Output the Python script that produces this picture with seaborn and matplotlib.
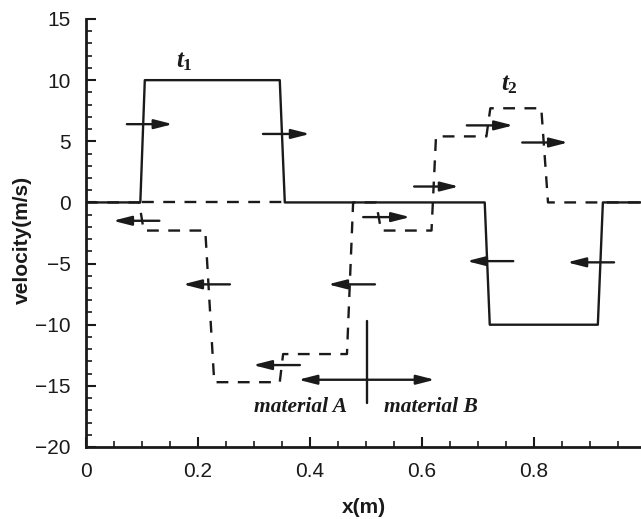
import numpy as np
import pandas as pd
import seaborn as sns
import matplotlib.pyplot as plt

# velocity profiles
x_t1 = [0, 0.097, 0.105, 0.346, 0.355, 0.712, 0.721, 0.914, 0.923, 1.0]
v_t1 = [0, 0, 10, 10, 0, 0, -10, -10, 0, 0]

x_t2 = [0, 0.095, 0.103, 0.213, 0.229, 0.346, 0.352, 0.466, 0.477, 0.518,
        0.527, 0.617, 0.625, 0.715, 0.722, 0.813, 0.825, 1.0]
v_t2 = [0, 0, -2.3, -2.3, -14.7, -14.7, -12.4, -12.4, 0, 0,
        -2.3, -2.3, 5.4, 5.4, 7.7, 7.7, 0, 0]

# dashed zero line visible under the t1 pulse
x_zero = [0.1, 0.355]
v_zero = [0, 0]

# wave-front arrows: tail x, head x, velocity level
arrow_tail = [0.073, 0.316, 0.131, 0.257, 0.382, 0.516, 0.495, 0.586, 0.680, 0.779, 0.763, 0.943]
arrow_head = [0.155, 0.400, 0.048, 0.173, 0.298, 0.432, 0.579, 0.666, 0.763, 0.861, 0.680, 0.859]
arrow_v = [6.4, 5.6, -1.5, -6.7, -13.3, -6.7, -1.2, 1.3, 6.3, 4.9, -4.8, -4.9]

interface_x = 0.502

sns.set_style("ticks")
plt.rcParams['font.family'] = ['Liberation Sans', 'DejaVu Sans']
plt.rcParams['mathtext.fontset'] = 'custom'
plt.rcParams['mathtext.it'] = 'Liberation Serif:bold:italic'
plt.rcParams['mathtext.rm'] = 'Liberation Serif:bold'

ink = '#1a1a1a'

fig = plt.figure(figsize=(6.41, 5.19), dpi=100)
ax = fig.add_axes([86/641, 1 - 447/519, 560/641, 428/519])

df1 = pd.DataFrame({'x': x_t1, 'v': v_t1})
df2 = pd.DataFrame({'x': x_t2, 'v': v_t2})
df0 = pd.DataFrame({'x': x_zero, 'v': v_zero})

sns.lineplot(data=df0, x='x', y='v', ax=ax, color=ink, lw=1.7,
             sort=False, estimator=None, linestyle=(0, (5, 4)))
sns.lineplot(data=df2, x='x', y='v', ax=ax, color=ink, lw=1.7,
             sort=False, estimator=None, linestyle=(0, (5, 4)))
sns.lineplot(data=df1, x='x', y='v', ax=ax, color=ink, lw=1.7,
             sort=False, estimator=None)

for xt, xh, v in zip(arrow_tail, arrow_head, arrow_v):
    ax.annotate('', xy=(xh, v), xytext=(xt, v),
                arrowprops=dict(arrowstyle='-|>,head_length=1.1,head_width=0.28',
                                lw=1.7, color=ink, shrinkA=0, shrinkB=0,
                                mutation_scale=10))

# material interface
ax.annotate('', xy=(0.623, -14.5), xytext=(0.379, -14.5),
            arrowprops=dict(arrowstyle='<|-|>,head_length=1.1,head_width=0.28',
                            lw=1.7, color=ink, shrinkA=0, shrinkB=0,
                            mutation_scale=10))
ax.plot([interface_x, interface_x], [-9.7, -16.4], color=ink, lw=1.7)

serif = dict(family='Liberation Serif', style='italic', weight='bold', size=15.5, color=ink)
ax.text(0.384, -16.7, 'material A', ha='center', va='center', **serif)
ax.text(0.616, -16.7, 'material B', ha='center', va='center', **serif)
ax.text(0.176, 11.6, r'$\mathit{t}_{\mathit{1}}$', ha='center', va='center', fontsize=18, color=ink)
ax.text(0.756, 9.7, r'$\mathit{t}_{\mathit{2}}$', ha='center', va='center', fontsize=18, color=ink)

ax.set_xlim(0, 1)
ax.set_ylim(-20, 15)
ax.set_xticks([0, 0.2, 0.4, 0.6, 0.8, 1.0])
ax.set_xticklabels(['0', '0.2', '0.4', '0.6', '0.8', '1'])
ax.set_yticks(np.arange(-20, 16, 5))
ax.set_yticklabels([str(t).replace('-', '\u2212') for t in range(-20, 16, 5)])
ax.set_xticks(np.arange(0, 1.001, 0.05), minor=True)
ax.set_yticks(np.arange(-20, 15.5, 1), minor=True)
ax.tick_params(which='major', direction='in', length=7, width=1.5,
               labelsize=15, pad=11, colors=ink)
ax.tick_params(which='minor', direction='in', length=4, width=1.2, colors=ink)

ax.set_xlabel('x(m)', fontsize=15, fontweight='bold', color=ink)
ax.set_ylabel('velocity(m/s)', fontsize=15, fontweight='bold', color=ink)
ax.xaxis.set_label_coords(0.496, -0.118)
ax.yaxis.set_label_coords(-0.096, 0.484)

sns.despine(ax=ax)
for s in ['left', 'bottom']:
    ax.spines[s].set_linewidth(2)
    ax.spines[s].set_color(ink)

fig.savefig('out.png', dpi=100)
